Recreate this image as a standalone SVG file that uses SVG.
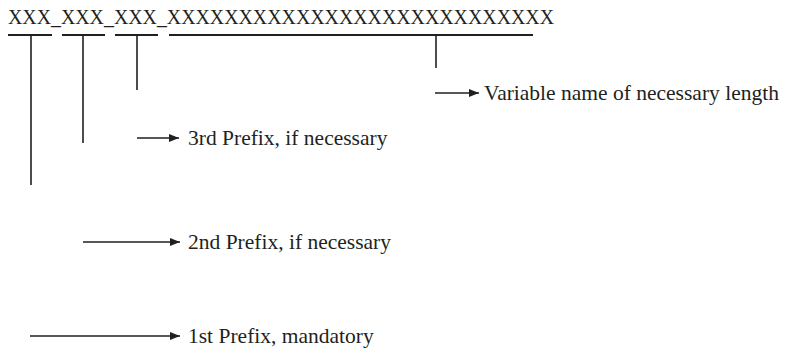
<svg xmlns="http://www.w3.org/2000/svg" width="788" height="351" viewBox="0 0 788 351">
<style>
text{font-family:"Liberation Serif","Times New Roman",serif;fill:#231f20}
.hdr{font-size:20.5px}
.lbl{font-size:21.5px}
.bar{stroke:#231f20;stroke-width:2.2;fill:none}
.stem{stroke:#231f20;stroke-width:1.6;fill:none}
.arr{stroke:#231f20;stroke-width:1.6;fill:none;marker-end:url(#ah)}
</style>
<defs>
<marker id="ah" viewBox="0 0 10 8" refX="10" refY="4" markerWidth="10" markerHeight="8" markerUnits="userSpaceOnUse" orient="auto">
<path d="M0,0 L10,4 L0,8 Z" fill="#231f20"/>
</marker>
</defs>
<g id="header">
<text class="hdr" x="8" y="24" textLength="546" lengthAdjust="spacingAndGlyphs">XXX_XXX_XXX_XXXXXXXXXXXXXXXXXXXXXXXXXXX</text>
</g>
<g id="brackets">
<line class="bar" x1="8" y1="35" x2="52" y2="35"/>
<line class="bar" x1="62" y1="35" x2="105" y2="35"/>
<line class="bar" x1="115" y1="35" x2="158" y2="35"/>
<line class="bar" x1="169" y1="35" x2="533" y2="35"/>
<line class="stem" x1="31" y1="35" x2="31" y2="185"/>
<line class="stem" x1="83" y1="35" x2="83" y2="143"/>
<line class="stem" x1="137" y1="35" x2="137" y2="90"/>
<line class="stem" x1="436" y1="35" x2="436" y2="68"/>
</g>
<g id="connectors">
<line class="arr" x1="435" y1="93" x2="479" y2="93"/>
<line class="arr" x1="137" y1="138" x2="179" y2="138"/>
<line class="arr" x1="83" y1="242" x2="180" y2="242"/>
<line class="arr" x1="30" y1="336" x2="180" y2="336"/>
</g>
<g id="label-variable"><text class="lbl" x="484" y="100">Variable name of necessary length</text></g>
<g id="label-3rd"><text class="lbl" x="188" y="145">3rd Prefix, if necessary</text></g>
<g id="label-2nd"><text class="lbl" x="188" y="249">2nd Prefix, if necessary</text></g>
<g id="label-1st"><text class="lbl" x="188" y="343">1st Prefix, mandatory</text></g>
</svg>
